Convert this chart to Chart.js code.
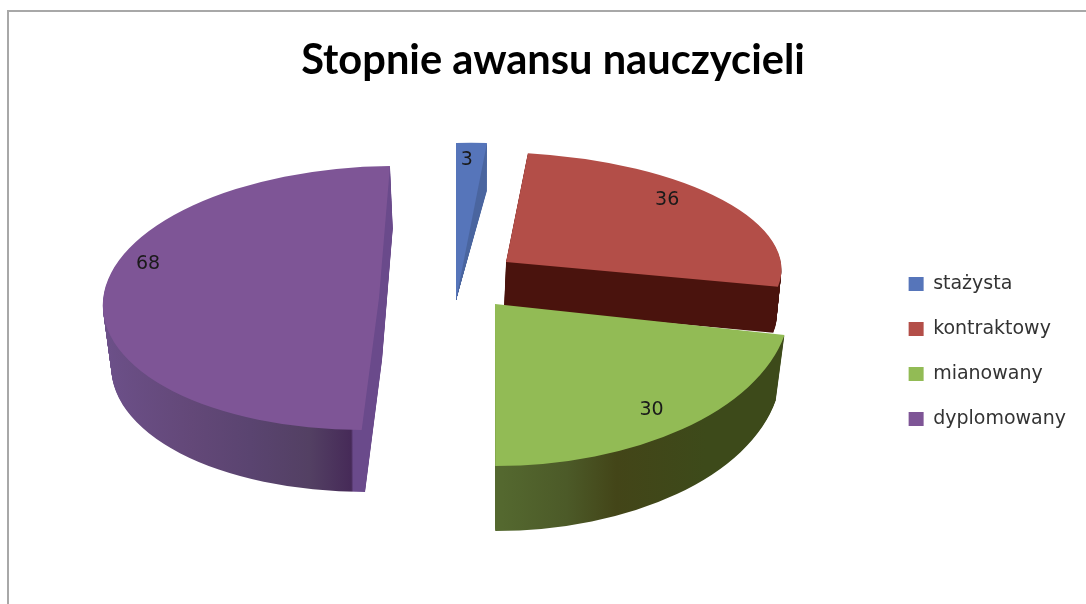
<!DOCTYPE html>
<html lang="pl">
<head>
  <meta charset="UTF-8" />
  <title>Stopnie awansu nauczycieli</title>
  <style>
    html, body { margin: 0; padding: 0; background: #fff; overflow: hidden; }
    #wrap { position: relative; width: 1086px; height: 604px; }
    #frame {
      position: absolute; left: 7px; top: 10px; right: 0; bottom: 0;
      border-top: 2px solid #a8a8a8; border-left: 2px solid #a8a8a8;
    }
    /* zrodlo jest lekko rozmyte */
    canvas { position: absolute; left: 0; top: 0; filter: blur(0.5px); }
  </style>
  <script src="https://cdn.jsdelivr.net/npm/chart.js"></script>
</head>
<body>
  <div id="wrap">
    <div id="frame"></div>
    <canvas id="pie" width="1086" height="604"></canvas>
  </div>

  <script>
    const titleText = "Stopnie awansu nauczycieli";
    const categories = ["stażysta", "kontraktowy", "mianowany", "dyplomowany"];
    const values = [3, 36, 30, 68];
    const topColors = ["#5675ba", "#b34e48", "#92bb55", "#7e5596"];

    // rzut 3D: kazdy wycinek ma wlasny srodek i macierz (a b c d), potem sciana boczna
    const faces = [
      { x: 456, y: 300, a: 226, b: -10, c: 0, d: 157 },
      { x: 506, y: 262, a: 275, b: 1, c: 16, d: 110 },
      { x: 495, y: 304, a: 295, b: -4, c: 7, d: 162 },
      { x: 379, y: 298, a: 276, b: -2, c: -11, d: 132 }
    ];
    const walls = [
      { dx: 0, dy: 0, sx: 1, sy: 0.7, steps: 47 },
      { dx: -2, dy: 46, sx: 0.99, sy: 1, steps: 46 },
      { dx: 0, dy: 65, sx: 0.97, sy: 1, steps: 65 },
      { dx: 3, dy: 62, sx: 0.98, sy: 1, steps: 62 }
    ];
    const wallStops = [
      [[0, "#4a659f"], [2000, "#4a659f"]],
      [[0, "#4a130d"], [2000, "#4a130d"]],
      [[495, "#54682f"], [560, "#4c5a28"], [610, "#434518"], [700, "#3d4a1a"], [790, "#3d4a1a"]],
      [[100, "#6c5089"], [200, "#634878"], [260, "#5a4470"], [320, "#534063"], [362, "#462a58"], [364, "#6a4a8b"], [400, "#6a4a8b"]]
    ];
    const drawOrder = [0, 3, 1, 2];
    const labelFrac = [0.89, 0.73, 0.835, 0.837];
    const labelShift = [[-3, 0], [3, -17], [0, 2], [0, -34]];

    function place(ctx, arc, m) {
      const R = arc.outerRadius;
      ctx.translate(m.x, m.y);
      ctx.transform(m.a / R, m.b / R, m.c / R, m.d / R, 0, 0);
      ctx.translate(-arc.x, -arc.y);
    }

    function drawWith(ctx, arc, m, fill) {
      const saved = arc.options;
      arc.options = { backgroundColor: fill, borderColor: fill, borderWidth: 0, borderAlign: "center",
        borderRadius: 0, offset: 0, spacing: 0, circular: true };
      ctx.save();
      place(ctx, arc, m);
      arc.draw(ctx);
      ctx.restore();
      arc.options = saved;
    }

    // gradient podany w x ekranu, przeliczony na lokalne x luku
    function wallFill(ctx, arc, m, stops) {
      const R = arc.outerRadius;
      const left = m.x - m.a, right = m.x + m.a;
      const g = ctx.createLinearGradient(arc.x - R, 0, arc.x + R, 0);
      stops.forEach(s => {
        const t = Math.min(1, Math.max(0, (s[0] - left) / (right - left)));
        g.addColorStop(t, s[1]);
      });
      return g;
    }

    const pie3d = {
      id: "pie3d",
      beforeDatasetDraw(chart, args) {
        const ctx = chart.ctx;
        const arcs = args.meta.data;
        drawOrder.forEach(i => {
          const arc = arcs[i], f = faces[i], w = walls[i];
          for (let s = w.steps; s > 0; s--) {
            const t = s / w.steps;
            const sx = 1 + (w.sx - 1) * t, sy = 1 + (w.sy - 1) * t;
            const m = { x: f.x + w.dx * t, y: f.y + w.dy * t, a: f.a * sx, b: f.b * sy, c: f.c * sx, d: f.d * sy };
            drawWith(ctx, arc, m, wallFill(ctx, arc, m, wallStops[i]));
          }
          drawWith(ctx, arc, f, topColors[i]);
        });
        return false;
      },
      afterDatasetsDraw(chart) {
        const ctx = chart.ctx;
        const arcs = chart.getDatasetMeta(0).data;
        ctx.save();
        ctx.font = '19px "DejaVu Sans"';
        ctx.fillStyle = "#1a1a1a";
        ctx.textAlign = "center";
        ctx.textBaseline = "middle";
        arcs.forEach((arc, i) => {
          const mid = (arc.startAngle + arc.endAngle) / 2;
          const ux = Math.cos(mid) * labelFrac[i], uy = Math.sin(mid) * labelFrac[i];
          const f = faces[i];
          ctx.fillText(String(values[i]),
            f.x + f.a * ux + f.c * uy + labelShift[i][0],
            f.y + f.b * ux + f.d * uy + labelShift[i][1]);
        });
        ctx.restore();
      }
    };

    new Chart(document.getElementById("pie"), {
      type: "pie",
      data: {
        labels: categories,
        datasets: [{ data: values, backgroundColor: topColors, borderWidth: 0, hoverOffset: 0 }]
      },
      plugins: [pie3d],
      options: {
        responsive: false,
        animation: false,
        layout: { padding: { left: 30, top: 36, right: 10, bottom: -63 } },
        plugins: {
          tooltip: { enabled: false },
          title: {
            display: true,
            text: titleText,
            color: "#000",
            font: { family: "Lato", size: 41.6, weight: "bold" },
            padding: { top: 0, bottom: 80 }
          },
          legend: {
            position: "right",
            labels: {
              color: "#333",
              font: { family: "DejaVu Sans", size: 19 },
              boxWidth: 15,
              boxHeight: 14,
              padding: 26
            }
          }
        }
      }
    });
  </script>
</body>
</html>
